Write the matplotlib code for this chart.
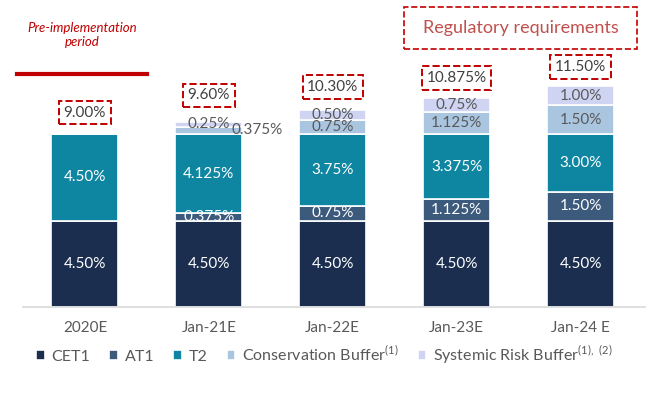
import matplotlib.pyplot as plt
from matplotlib.patches import Rectangle

plt.rcParams['font.family'] = ['Lato', 'DejaVu Sans']

# Data (values in %)
categories = ["2020E", "Jan-21E", "Jan-22E", "Jan-23E", "Jan-24 E"]
cet1 = [4.5, 4.5, 4.5, 4.5, 4.5]
at1 = [0, 0.375, 0.75, 1.125, 1.5]
t2 = [4.5, 4.125, 3.75, 3.375, 3.0]
conservation = [0, 0.375, 0.75, 1.125, 1.5]
systemic = [0, 0.25, 0.5, 0.75, 1.0]
total_labels = ["9.00%", "9.60%", "10.30%", "10.875%", "11.50%"]
seg_labels = {
    "CET1": ["4.50%", "4.50%", "4.50%", "4.50%", "4.50%"],
    "AT1": ["", "0.375%", "0.75%", "1.125%", "1.50%"],
    "T2": ["4.50%", "4.125%", "3.75%", "3.375%", "3.00%"],
    "Conservation": ["", "0.375%", "0.75%", "1.125%", "1.50%"],
    "Systemic": ["", "0.25%", "0.50%", "0.75%", "1.00%"],
}

colors = {
    "CET1": "#1b2e50",
    "AT1": "#3c5a7c",
    "T2": "#0e86a1",
    "Conservation": "#a9c5df",
    "Systemic": "#ced4f2",
}
legend_names = {
    "CET1": "CET1",
    "AT1": "AT1",
    "T2": "T2",
    "Conservation": r"Conservation Buffer$^{\mathregular{(1)}}$",
    "Systemic": r"Systemic Risk Buffer$^{\mathregular{(1),\ (2)}}$",
}
series = {"CET1": cet1, "AT1": at1, "T2": t2,
          "Conservation": conservation, "Systemic": systemic}

red = "#c00000"
grey_txt = "#595959"

fig = plt.figure(figsize=(6.62, 3.94), dpi=100)
ax = fig.add_axes([0.0347, 0.2208, 0.9396, 0.6827])

x = list(range(len(categories)))
bottoms = [0.0] * len(categories)
handles = []
for name, vals in series.items():
    b = ax.bar(x, vals, width=0.54, bottom=bottoms, color=colors[name],
               edgecolor="white", linewidth=1.2, label=legend_names[name])
    handles.append(b)
    dark = name in ("CET1", "AT1", "T2")
    for i, v in enumerate(vals):
        lab = seg_labels[name][i]
        if v <= 0 or not lab:
            continue
        xi = x[i]
        yi = bottoms[i] + v / 2
        # the tiny conservation buffer in Jan-21 is labelled off to the right
        if name == "Conservation" and i == 1:
            xi += 0.39
        ax.text(xi, yi, lab, ha="center", va="center", fontsize=11,
                color="white" if dark else grey_txt)
    bottoms = [bb + v for bb, v in zip(bottoms, vals)]

# total labels in dashed red boxes
gaps = [1.12, 1.4, 1.2, 1.04, 0.99]
for i, lab in enumerate(total_labels):
    ax.text(x[i], bottoms[i] + gaps[i], lab, ha="center", va="center",
            fontsize=11, color="#404040",
            bbox=dict(boxstyle="square,pad=0.3", facecolor="white",
                      edgecolor=red, linestyle="--", linewidth=1.4))

ax.set_xlim(-0.5, 4.52)
ax.set_ylim(0, 14)
ax.set_xticks(x)
ax.set_xticklabels(categories, fontsize=11, color=grey_txt)
ax.tick_params(axis="x", length=0, pad=10)
ax.set_yticks([])
for s in ("top", "right", "left"):
    ax.spines[s].set_visible(False)
ax.spines["bottom"].set_color("#d9d9d9")
ax.spines["bottom"].set_linewidth(1.2)

# legend
fig.legend(handles=handles, loc="center", bbox_to_anchor=(0.49, 0.1),
           ncol=5, frameon=False, fontsize=11.5, labelcolor=grey_txt,
           handlelength=0.55, handleheight=0.55, handletextpad=0.4,
           columnspacing=1.2)

# pre-implementation annotation
W, H = 662, 394
fig.text(82 / W, 1 - 35 / H, "Pre-implementation\nperiod", ha="center",
         va="center", fontsize=9.5, style="italic", color=red, linespacing=1.3)
fig.add_artist(plt.Line2D([17 / W, 147 / W], [1 - 74 / H, 1 - 74 / H],
                          color=red, linewidth=3))

# regulatory requirements box
fig.add_artist(Rectangle((404 / W, 1 - 49 / H), 233 / W, 42 / H,
                         transform=fig.transFigure, fill=False,
                         edgecolor=red, linestyle="--", linewidth=1.2))
fig.text(520.5 / W, 1 - 28 / H, "Regulatory requirements", ha="center",
         va="center", fontsize=13, color="#c0504d")

fig.savefig("out.png", dpi=100)
